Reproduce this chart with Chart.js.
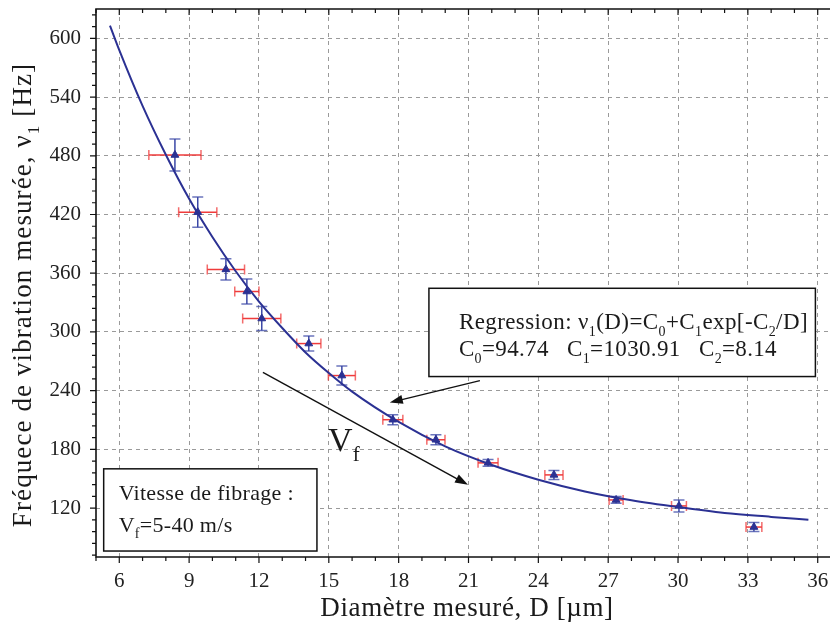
<!DOCTYPE html>
<html>
<head>
<meta charset="utf-8">
<script src="https://cdn.jsdelivr.net/npm/chart.js@4"></script>
<style>
  html, body { margin: 0; padding: 0; background: #fff; overflow: hidden; }
</style>
</head>
<body>
<canvas id="c" width="850" height="630"></canvas>
<script>
// measured points (diameter in um, frequency in Hz) with error bars
const diam     = [8.39, 9.37, 10.58, 11.48, 12.12, 14.14, 15.56, 17.75, 19.6, 21.84, 24.67, 27.34, 30.04, 33.26];
const diamErr  = [1.12, 0.82, 0.8, 0.52, 0.82, 0.52, 0.58, 0.43, 0.39, 0.43, 0.39, 0.3, 0.32, 0.34];
const freq     = [480.8, 422.4, 363.9, 341.3, 313.7, 288.1, 255.4, 210.3, 189.8, 166.2, 153.9, 128.3, 122.2, 100.6];
const freqErr  = [16.4, 15.4, 10.8, 12.8, 12.3, 7.7, 9.7, 5.1, 5.1, 3.5, 4.6, 3.5, 6.1, 4.6];

// regression curve
const curveDiam = [5.6, 6, 7, 8, 9, 10, 11, 12, 13, 14, 15, 16, 18, 20, 22, 24, 26, 28, 30, 32, 34, 35.6];
const curveFreq = [613, 588, 531, 481, 436, 397, 362, 331, 304, 279, 258, 239, 208, 183, 164, 149, 137, 128, 121, 115, 111, 108];

const xTicks = [6, 9, 12, 15, 18, 21, 24, 27, 30, 33, 36];
const yTicks = [120, 180, 240, 300, 360, 420, 480, 540, 600];

const FONT = '"Liberation Serif", "DejaVu Serif", serif';
const NAVY = '#2b3193';

// text with subscripts: plain strings or [sub] arrays
function rich(ctx, parts, x, y, size, spacing, measureOnly) {
  let cx = x;
  ctx.letterSpacing = (spacing || 0) + 'px';
  parts.forEach(p => {
    const sub = Array.isArray(p);
    const t = sub ? p[0] : p;
    ctx.font = (sub ? Math.round(size * 0.62) : size) + 'px ' + FONT;
    if (!measureOnly) ctx.fillText(t, cx, sub ? y + size * 0.3 : y);
    cx += ctx.measureText(t).width;
  });
  ctx.letterSpacing = '0px';
  return cx - x;
}

function arrow(ctx, x0, y0, x1, y1) {
  const a = Math.atan2(y1 - y0, x1 - x0);
  const len = 13, w = 4.5;
  ctx.beginPath();
  ctx.moveTo(x0, y0);
  ctx.lineTo(x1 - Math.cos(a) * len * 0.8, y1 - Math.sin(a) * len * 0.8);
  ctx.stroke();
  ctx.beginPath();
  ctx.moveTo(x1, y1);
  ctx.lineTo(x1 - Math.cos(a) * len - Math.sin(a) * w, y1 - Math.sin(a) * len + Math.cos(a) * w);
  ctx.lineTo(x1 - Math.cos(a) * len + Math.sin(a) * w, y1 - Math.sin(a) * len - Math.cos(a) * w);
  ctx.closePath();
  ctx.fill();
}

const decor = {
  id: 'decor',
  beforeDatasetsDraw(chart) {
    const { ctx, scales: { x, y } } = chart;
    ctx.save();
    ctx.lineWidth = 1.5;
    diam.forEach((d, i) => {
      const px = x.getPixelForValue(d), py = y.getPixelForValue(freq[i]);
      const xl = x.getPixelForValue(d - diamErr[i]), xr = x.getPixelForValue(d + diamErr[i]);
      const yt = y.getPixelForValue(freq[i] + freqErr[i]), yb = y.getPixelForValue(freq[i] - freqErr[i]);
      // horizontal (red)
      ctx.strokeStyle = '#ef3b3b';
      ctx.beginPath();
      ctx.moveTo(xl, py); ctx.lineTo(xr, py);
      ctx.stroke();
      ctx.strokeStyle = 'rgba(239,59,59,0.75)';
      ctx.beginPath();
      ctx.moveTo(xl, py - 5); ctx.lineTo(xl, py + 5);
      ctx.moveTo(xr, py - 5); ctx.lineTo(xr, py + 5);
      ctx.stroke();
      // vertical (blue)
      ctx.strokeStyle = '#3a47a6';
      ctx.beginPath();
      ctx.moveTo(px, yt); ctx.lineTo(px, yb);
      ctx.stroke();
      ctx.strokeStyle = 'rgba(58,71,166,0.75)';
      ctx.beginPath();
      ctx.moveTo(px - 5.5, yt); ctx.lineTo(px + 5.5, yt);
      ctx.moveTo(px - 5.5, yb); ctx.lineTo(px + 5.5, yb);
      ctx.stroke();
    });
    ctx.restore();
  },
  afterDatasetsDraw(chart) {
    const { ctx, chartArea: a, scales: { x, y } } = chart;
    ctx.save();
    ctx.strokeStyle = '#111';
    ctx.fillStyle = '#111';

    // minor / major ticks: outward on left & bottom, inward on top
    ctx.lineWidth = 1.2;
    ctx.beginPath();
    for (let v = Math.ceil(x.min); v <= x.max; v++) {
      const px = x.getPixelForValue(v), major = v % 3 === 0, l = major ? 6 : 4;
      ctx.moveTo(px, a.bottom); ctx.lineTo(px, a.bottom + l);
      ctx.moveTo(px, a.top); ctx.lineTo(px, a.top + l);
    }
    for (let v = 72; v <= y.max; v += 12) {
      const py = y.getPixelForValue(v), major = v % 60 === 0, l = major ? 6 : 4;
      ctx.moveTo(a.left, py); ctx.lineTo(a.left - l, py);
    }
    ctx.stroke();

    // frame
    ctx.lineWidth = 1.6;
    ctx.beginPath();
    ctx.moveTo(a.right, a.top); ctx.lineTo(a.left, a.top);
    ctx.lineTo(a.left, a.bottom); ctx.lineTo(a.right, a.bottom);
    ctx.stroke();

    // regression box
    const rx0 = x.getPixelForValue(19.3), rx1 = x.getPixelForValue(35.9);
    const ry0 = y.getPixelForValue(344.6), ry1 = y.getPixelForValue(254.4);
    ctx.fillStyle = '#fff';
    ctx.fillRect(rx0, ry0, rx1 - rx0, ry1 - ry0);
    ctx.lineWidth = 1.5;
    ctx.strokeRect(rx0, ry0, rx1 - rx0, ry1 - ry0);
    ctx.fillStyle = '#1a1a1a';
    ctx.textBaseline = 'alphabetic';
    ctx.textAlign = 'left';
    rich(ctx, ['Regression: ν', ['1'], '(D)=C', ['0'], '+C', ['1'], 'exp[-C', ['2'], '/D]'], rx0 + 30, ry0 + 41, 23, 0.4);
    rich(ctx, ['C', ['0'], '=94.74   C', ['1'], '=1030.91   C', ['2'], '=8.14'], rx0 + 30, ry0 + 68, 23, 0.35);

    // speed box
    const vx0 = x.getPixelForValue(5.33), vx1 = x.getPixelForValue(14.49);
    const vy0 = y.getPixelForValue(160.1), vy1 = y.getPixelForValue(76.1);
    ctx.fillStyle = '#fff';
    ctx.fillRect(vx0, vy0, vx1 - vx0, vy1 - vy0);
    ctx.strokeRect(vx0, vy0, vx1 - vx0, vy1 - vy0);
    ctx.fillStyle = '#1a1a1a';
    rich(ctx, ['Vitesse de fibrage :'], vx0 + 15, vy0 + 31, 22, 0.3);
    rich(ctx, ['V', ['f'], '=5-40 m/s'], vx0 + 15, vy0 + 63, 22, 0.3);

    // arrows
    ctx.fillStyle = '#111';
    ctx.lineWidth = 1.4;
    arrow(ctx, x.getPixelForValue(21.49), y.getPixelForValue(250.3), x.getPixelForValue(17.62), y.getPixelForValue(227.8));
    arrow(ctx, x.getPixelForValue(12.17), y.getPixelForValue(258.6), x.getPixelForValue(20.98), y.getPixelForValue(143.8));
    ctx.fillStyle = '#1a1a1a';
    rich(ctx, ['V', ['f']], x.getPixelForValue(14.97), y.getPixelForValue(178.6), 34);

    // axis titles
    const xt = ['Diamètre mesuré, D [µm]'];
    const wx = rich(ctx, xt, 0, 0, 27, 0.6, true);
    rich(ctx, xt, 467 - wx / 2, 616, 27, 0.6);
    const yt = ['Fréquece de vibration mesurée, ν', ['1'], ' [Hz]'];
    const wy = rich(ctx, yt, 0, 0, 27, 1.1, true);
    ctx.translate(31, 295);
    ctx.rotate(-Math.PI / 2);
    rich(ctx, yt, -wy / 2, 0, 27, 1.1);
    ctx.restore();
  }
};

new Chart(document.getElementById('c'), {
  data: {
    datasets: [
      {
        type: 'line',
        data: curveDiam.map((d, i) => ({ x: d, y: curveFreq[i] })),
        borderColor: NAVY,
        borderWidth: 2,
        pointRadius: 0,
        cubicInterpolationMode: 'monotone',
        fill: false
      },
      {
        type: 'scatter',
        data: diam.map((d, i) => ({ x: d, y: freq[i] })),
        pointStyle: 'triangle',
        pointRadius: 4.5,
        backgroundColor: NAVY,
        borderColor: NAVY,
        borderWidth: 1
      }
    ]
  },
  options: {
    responsive: false,
    devicePixelRatio: 1,
    animation: false,
    layout: { padding: { left: 0, top: 9, right: 9, bottom: 0 } },
    plugins: { legend: { display: false }, tooltip: { enabled: false } },
    scales: {
      x: {
        type: 'linear',
        min: 5,
        max: 37,
        afterBuildTicks: s => { s.ticks = xTicks.map(v => ({ value: v })); },
        afterFit: s => { s.height = 73; s.paddingLeft = 0; s.paddingRight = 0; },
        grid: { color: '#9a9a9a', lineWidth: 1, drawTicks: false },
        border: { display: false, dash: [4, 4] },
        ticks: { padding: 12, color: '#222', font: { family: FONT, size: 21 } }
      },
      y: {
        type: 'linear',
        min: 70,
        max: 630,
        afterBuildTicks: s => { s.ticks = yTicks.map(v => ({ value: v })); },
        afterFit: s => { s.width = 96; s.paddingTop = 0; s.paddingBottom = 0; },
        grid: { color: '#9a9a9a', lineWidth: 1, drawTicks: false },
        border: { display: false, dash: [4, 4] },
        ticks: { padding: 15, color: '#222', font: { family: FONT, size: 21 } }
      }
    }
  },
  plugins: [decor]
});
</script>
</body>
</html>
